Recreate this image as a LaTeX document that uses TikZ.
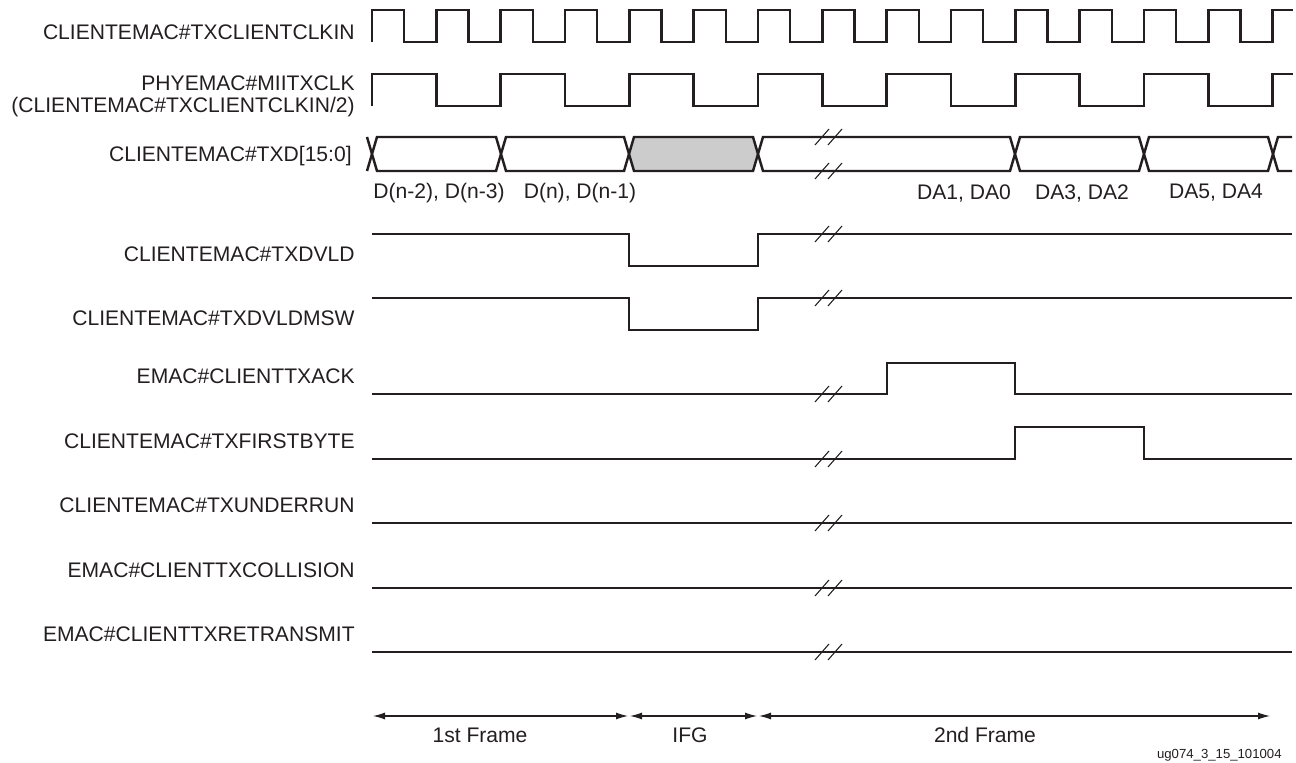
\documentclass[tikz,border=0pt]{standalone}
\usepackage{fontspec}
\setmainfont{Liberation Sans}
\usetikzlibrary{arrows.meta}
\definecolor{wave}{HTML}{231F20}
\definecolor{idle}{HTML}{CCCCCC}
\newcommand{\brkmark}[2]{%
  \draw[brk] (#1-14,#2+8) -- (#1,#2-8);
  \draw[brk] (#1-1,#2+8) -- (#1+13,#2-8);}
\newcommand{\busseg}[3]{%
  \draw[sig,fill=#3] (#1,154) -- (#1+5,137) -- (#2-5,137) -- (#2,154) -- (#2-5,171) -- (#1+5,171) -- cycle;}
\begin{document}
\begin{tikzpicture}[x=0.02cm,y=-0.02cm,
  sig/.style={draw=wave,line width=1.4pt,line join=miter},
  brk/.style={draw=wave,line width=0.6pt},
  lbl/.style={anchor=east,text=wave,inner sep=0pt,font=\fontsize{12}{14}\selectfont},
  val/.style={text=wave,inner sep=0pt,font=\fontsize{12}{14}\selectfont},
  frm/.style={draw=wave,line width=0.6pt,{Latex[length=2.4mm,width=1.4mm]}-{Latex[length=2.4mm,width=1.4mm]}}]
  \useasboundingbox (0,0) rectangle (1296,763);
  \def\hp{32.166}

  % clocks
  \draw[sig] (372,42) \foreach \i in {1,...,14} { -- ++(0,-32) -- ++(\hp,0) -- ++(0,32) -- ++(\hp,0) } -- ++(0,-32) -- ++(20,0);
  \draw[sig] (372,106) \foreach \i in {1,...,7} { -- ++(0,-32) -- ++(2*\hp,0) -- ++(0,32) -- ++(2*\hp,0) } -- ++(0,-32) -- ++(20,0);
  \node[lbl] (txclk) at (355,32) {CLIENTEMAC\#TXCLIENTCLKIN};
  \node[lbl] (miiclk) at (355,83) {PHYEMAC\#MIITXCLK};
  \node[lbl] (miiclk2) at (355,107) {(CLIENTEMAC\#TXCLIENTCLKIN/2)};

  % data bus
  \draw[sig] (367,137) -- (372,154) -- (367,171);
  \busseg{372}{501}{white}
  \busseg{501}{629}{white}
  \busseg{629}{758}{idle}
  \busseg{758}{1015}{white}
  \busseg{1015}{1144}{white}
  \busseg{1144}{1273}{white}
  \draw[sig] (1292,137) -- (1278,137) -- (1273,154) -- (1278,171) -- (1292,171);
  \brkmark{829}{137}
  \brkmark{829}{171}
  \node[lbl] (txd) at (352,156) {CLIENTEMAC\#TXD[15:0]};
  \node[val] (dn2) at (439,193) {D(n-2), D(n-3)};
  \node[val] (dn0) at (580,193) {D(n), D(n-1)};
  \node[val] (da10) at (964,193) {DA1, DA0};
  \node[val] (da32) at (1082,193) {DA3, DA2};
  \node[val] (da54) at (1216,193) {DA5, DA4};

  % control signals
  \draw[sig] (372,234) -- (629,234) -- (629,266) -- (758,266) -- (758,234) -- (1292,234);
  \brkmark{829}{234}
  \node[lbl] (dvld) at (355,254) {CLIENTEMAC\#TXDVLD};
  \draw[sig] (372,298) -- (629,298) -- (629,330) -- (758,330) -- (758,298) -- (1292,298);
  \brkmark{829}{298}
  \node[lbl] (dvldmsw) at (355,318) {CLIENTEMAC\#TXDVLDMSW};
  \draw[sig] (372,394) -- (887,394) -- (887,363) -- (1015,363) -- (1015,394) -- (1292,394);
  \brkmark{829}{394}
  \node[lbl] (txack) at (355,376) {EMAC\#CLIENTTXACK};
  \draw[sig] (372,459) -- (1015,459) -- (1015,427) -- (1144,427) -- (1144,459) -- (1292,459);
  \brkmark{829}{459}
  \node[lbl] (firstbyte) at (355,441) {CLIENTEMAC\#TXFIRSTBYTE};
  \draw[sig] (372,523) -- (1292,523);
  \brkmark{829}{523}
  \node[lbl] (underrun) at (355,505) {CLIENTEMAC\#TXUNDERRUN};
  \draw[sig] (372,588) -- (1292,588);
  \brkmark{829}{588}
  \node[lbl] (collision) at (355,570) {EMAC\#CLIENTTXCOLLISION};
  \draw[sig] (372,652) -- (1292,652);
  \brkmark{829}{652}
  \node[lbl] (retransmit) at (355,634) {EMAC\#CLIENTTXRETRANSMIT};

  % frames
  \coordinate (f1a) at (373,716);
  \coordinate (f1b) at (628,716);
  \coordinate (ifga) at (630,716);
  \coordinate (ifgb) at (757,716);
  \coordinate (f2a) at (759,716);
  \coordinate (f2b) at (1270,716);
  \draw[frm] (f1a) -- (f1b);
  \draw[frm] (ifga) -- (ifgb);
  \draw[frm] (f2a) -- (f2b);
  \node[val] (frame1) at (480,735) {1st Frame};
  \node[val] (ifg) at (690,735) {IFG};
  \node[val] (frame2) at (985,735) {2nd Frame};

  \node[anchor=east,text=wave,inner sep=0pt,font=\fontsize{7.5}{9}\selectfont] (fignum) at (1282,755) {ug074\_3\_15\_101004};
\end{tikzpicture}
\end{document}
